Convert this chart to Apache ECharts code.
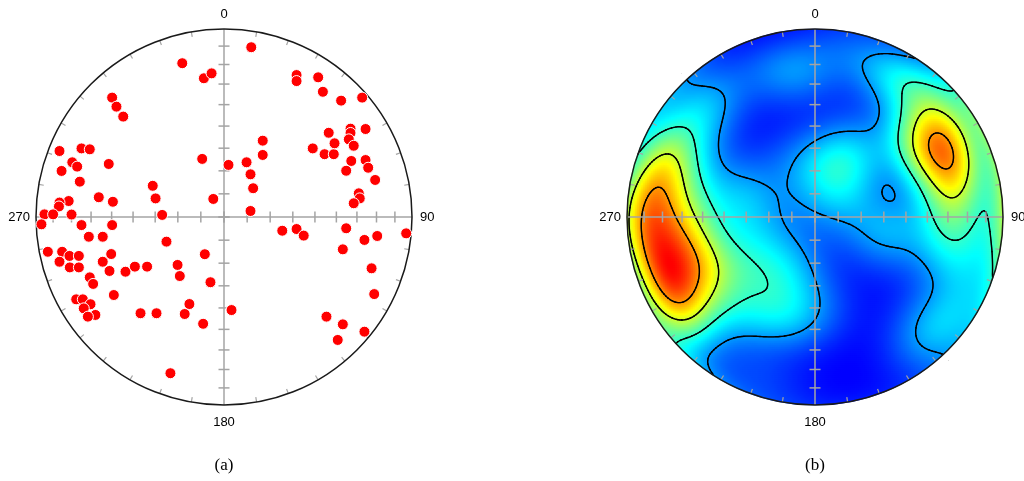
<!DOCTYPE html>
<html><head><meta charset="utf-8">
<script src="https://cdn.jsdelivr.net/npm/echarts@6/dist/echarts.min.js"></script>
<style>html,body{margin:0;padding:0;background:#fff}#c{width:1024px;height:481px}</style>
</head><body><div id="c"></div>
<script>
// Poles on the lower-hemisphere equal-area net: east / north, primitive circle radius = 1
const poleEast = [
-0.222,-0.107,-0.066,-0.595,-0.572,-0.536,-0.875,-0.758,-0.714,-0.807,
-0.781,-0.864,-0.613,-0.116,0.024,-0.767,-0.379,-0.364,-0.057,-0.666,
-0.591,-0.826,-0.875,-0.878,-0.955,-0.909,-0.811,-0.329,
-0.971,-0.758,-0.595,-0.719,-0.645,-0.306,-0.937,-0.861,-0.822,-0.772,
-0.600,-0.875,-0.645,-0.820,-0.772,-0.609,-0.524,-0.474,-0.409,-0.247,
-0.235,-0.102,-0.072,-0.714,-0.696,-0.586,-0.786,-0.751,-0.710,-0.746,
-0.684,-0.724,-0.444,-0.359,-0.184,-0.209,-0.111,0.040,-0.285,
0.141,0.310,0.386,0.424,0.650,0.747,0.815,0.969,0.632,0.785,0.799,0.545,0.632,0.605,0.747,
0.145,0.386,0.386,0.501,0.526,0.623,0.735,0.206,0.206,0.120,0.141,0.155,0.472,0.557,0.535,
0.584,0.588,0.673,0.673,0.664,0.690,0.753,0.677,0.650,0.753,0.767,0.804,0.717,0.722,0.690];
const poleNorth = [
0.818,0.738,0.764,0.635,0.587,0.534,0.351,0.365,0.360,0.291,
0.268,0.245,0.282,0.309,0.277,0.188,0.166,0.099,0.096,0.105,
0.081,0.085,0.077,0.056,0.014,0.014,0.013,0.011,
-0.039,-0.043,-0.043,-0.105,-0.105,-0.131,-0.185,-0.185,-0.207,-0.207,
-0.197,-0.238,-0.238,-0.268,-0.268,-0.287,-0.291,-0.264,-0.264,-0.255,
-0.314,-0.198,-0.347,-0.321,-0.356,-0.415,-0.438,-0.438,-0.464,-0.486,
-0.521,-0.530,-0.512,-0.512,-0.463,-0.516,-0.568,-0.495,-0.831,
0.032,-0.073,-0.064,-0.099,-0.060,-0.122,-0.101,-0.087,-0.172,-0.273,-0.410,-0.530,-0.571,-0.654,-0.610,
0.903,0.755,0.723,0.743,0.666,0.619,0.635,0.406,0.330,0.291,0.227,0.153,0.365,0.448,0.334,
0.334,0.392,0.470,0.447,0.413,0.379,0.468,0.298,0.246,0.303,0.262,0.197,0.126,0.099,0.073];
const directionLabels = ['0', '90', '180', '270'];
const panelCaptions = ['(a)', '(b)'];
const contourFractions = [0.2, 0.4, 0.6, 0.8];

// ---- density (exponential kernel on the sphere, axial) computed from the poles ----
const N = 188, KAPPA = 26;
const toVec = (x, y) => {
  const r = Math.hypot(x, y), rr = Math.min(r, 1);
  const th = 2 * Math.asin(rr / Math.SQRT2), s = Math.sin(th);
  return r > 0 ? [x / r * s, y / r * s, Math.cos(th)] : [0, 0, 1];
};
const poleVecs = poleEast.map((x, i) => toVec(x, poleNorth[i]));
const cellC = i => -1 + (i + 0.5) * 2 / N;
const field = new Float64Array(N * N).fill(NaN);
let dmin = Infinity, dmax = -Infinity;
for (let j = 0; j < N; j++) for (let i = 0; i < N; i++) {
  const x = cellC(i), y = cellC(j), r = Math.hypot(x, y);
  if (r > 1.04) continue;
  const u = toVec(x, y);
  let d = 0;
  for (const v of poleVecs) d += Math.exp(KAPPA * (Math.abs(u[0]*v[0] + u[1]*v[1] + u[2]*v[2]) - 1));
  field[j * N + i] = d;
  if (r <= 1) { dmin = Math.min(dmin, d); dmax = Math.max(dmax, d); }
}
const heatData = [];
for (let j = 0; j < N; j++) for (let i = 0; i < N; i++) {
  if (Math.hypot(cellC(i), cellC(j)) <= 1.02) heatData.push([i, j, field[j * N + i]]);
}
// marching squares
const segs = [];
for (const f of contourFractions) {
  const L = dmin + f * (dmax - dmin);
  for (let j = 0; j < N - 1; j++) for (let i = 0; i < N - 1; i++) {
    const v = [field[j*N+i], field[j*N+i+1], field[(j+1)*N+i+1], field[(j+1)*N+i]];
    if (v.some(isNaN)) continue;
    const px = [cellC(i), cellC(i+1), cellC(i+1), cellC(i)];
    const py = [cellC(j), cellC(j), cellC(j+1), cellC(j+1)];
    const hi = v.map(a => a >= L);
    const pts = {};
    for (let e = 0; e < 4; e++) {
      const a = e, b = (e + 1) % 4;
      if (hi[a] !== hi[b]) {
        const t = (L - v[a]) / (v[b] - v[a]);
        pts[e] = [px[a] + t * (px[b] - px[a]), py[a] + t * (py[b] - py[a])];
      }
    }
    const keys = Object.keys(pts).map(Number);
    if (keys.length === 2) segs.push([...pts[keys[0]], ...pts[keys[1]]]);
    else if (keys.length === 4) {
      const cHi = (v[0] + v[1] + v[2] + v[3]) / 4 >= L;
      if (hi[0] === cHi) { segs.push([...pts[0], ...pts[1]]); segs.push([...pts[2], ...pts[3]]); }
      else { segs.push([...pts[3], ...pts[0]]); segs.push([...pts[1], ...pts[2]]); }
    }
  }
}

const cats = Array.from({length: N}, (_, i) => i);
const scatterData = poleEast.map((x, i) => [x, poleNorth[i]]);
const CX = [224, 815], CY = 217, R = 188;
const gridOf = k => ({left: CX[k] - R, top: CY - R, width: 2 * R, height: 2 * R});

function frame(withRing) {
  return function (params, api) {
    const c = api.coord([0, 0]), e = api.coord([1, 0]);
    const r = e[0] - c[0];
    const ch = [];
    const gray = '#a4a4a4';
    if (withRing) ch.push({type: 'ring', shape: {cx: c[0], cy: c[1], r: r + 8, r0: r + 0.5}, style: {fill: '#fff'}});
    ch.push({type: 'line', shape: {x1: c[0] - r, y1: c[1], x2: c[0] + r, y2: c[1]}, style: {stroke: gray, lineWidth: 1.5}});
    ch.push({type: 'line', shape: {x1: c[0], y1: c[1] - r, x2: c[0], y2: c[1] + r}, style: {stroke: gray, lineWidth: 1.5}});
    const h = 5.5;
    for (let d = 0; d < 90; d += 10) {
      const rr = r * Math.SQRT2 * Math.sin(d * Math.PI / 360);
      for (const s of [-1, 1]) {
        ch.push({type: 'line', shape: {x1: c[0] + s * rr, y1: c[1] - h, x2: c[0] + s * rr, y2: c[1] + h}, style: {stroke: gray, lineWidth: 1.5}});
        ch.push({type: 'line', shape: {x1: c[0] - h, y1: c[1] + s * rr, x2: c[0] + h, y2: c[1] + s * rr}, style: {stroke: gray, lineWidth: 1.5}});
      }
    }
    for (let a = 0; a < 360; a += 10) {
      if (a % 90 === 0) continue;
      const sa = Math.sin(a * Math.PI / 180), ca = Math.cos(a * Math.PI / 180);
      ch.push({type: 'line', shape: {x1: c[0] + (r - 5) * sa, y1: c[1] - (r - 5) * ca, x2: c[0] + r * sa, y2: c[1] - r * ca}, style: {stroke: gray, lineWidth: 1.2}});
    }
    ch.push({type: 'circle', shape: {cx: c[0], cy: c[1], r: r}, style: {fill: 'none', stroke: '#1a1a1a', lineWidth: 1.5}});
    return {type: 'group', children: ch};
  };
}

const texts = [];
const lab = (t, x, y, align, size, fam) => texts.push({type: 'text', z: 100, style: {text: t, x: x, y: y, align: align, verticalAlign: 'middle', fontSize: size, fontFamily: fam, fill: '#000'}});
for (let k = 0; k < 2; k++) {
  lab(directionLabels[0], CX[k], 14, 'center', 13, 'Liberation Sans');
  lab(directionLabels[2], CX[k], 422, 'center', 13, 'Liberation Sans');
  lab(directionLabels[1], CX[k] + R + 8, CY, 'left', 13, 'Liberation Sans');
  lab(directionLabels[3], CX[k] - R - 6, CY, 'right', 13, 'Liberation Sans');
  lab(panelCaptions[k], CX[k], 466, 'center', 17, 'Liberation Serif');
}

const valAxis = (g) => ({type: 'value', gridIndex: g, min: -1, max: 1, show: false});
const catAxis = (g) => ({type: 'category', gridIndex: g, data: cats, show: false});
const chart = echarts.init(document.getElementById('c'), null, {renderer: 'canvas'});
chart.setOption({
  animation: false,
  grid: [gridOf(0), gridOf(1), gridOf(1)],
  xAxis: [valAxis(0), valAxis(1), catAxis(2)],
  yAxis: [valAxis(0), valAxis(1), catAxis(2)],
  visualMap: {show: false, type: 'continuous', seriesIndex: 1, dimension: 2, min: dmin, max: dmax,
    inRange: {color: ['#0000ff', '#00ffff', '#ffff00', '#ff0000']}},
  graphic: texts,
  series: [
    {type: 'custom', xAxisIndex: 0, yAxisIndex: 0, z: 1, data: [[0, 0]], renderItem: frame(false), silent: true},
    {type: 'heatmap', xAxisIndex: 2, yAxisIndex: 2, z: 1, data: heatData, progressive: 0, silent: true},
    {type: 'custom', xAxisIndex: 1, yAxisIndex: 1, z: 2, data: segs, progressive: 0, silent: true,
      encode: {x: [0, 2], y: [1, 3]},
      renderItem: (p, api) => {
        const a = api.coord([api.value(0), api.value(1)]), b = api.coord([api.value(2), api.value(3)]);
        return {type: 'line', shape: {x1: a[0], y1: a[1], x2: b[0], y2: b[1]}, style: {stroke: '#000', lineWidth: 1.4, lineCap: 'round'}};
      }},
    {type: 'custom', xAxisIndex: 1, yAxisIndex: 1, z: 3, data: [[0, 0]], renderItem: frame(true), silent: true},
    {type: 'scatter', xAxisIndex: 0, yAxisIndex: 0, z: 4, data: scatterData, symbolSize: 11,
      itemStyle: {color: '#ff0000', borderColor: '#fff', borderWidth: 1, opacity: 1}}
  ]
});
</script></body></html>
